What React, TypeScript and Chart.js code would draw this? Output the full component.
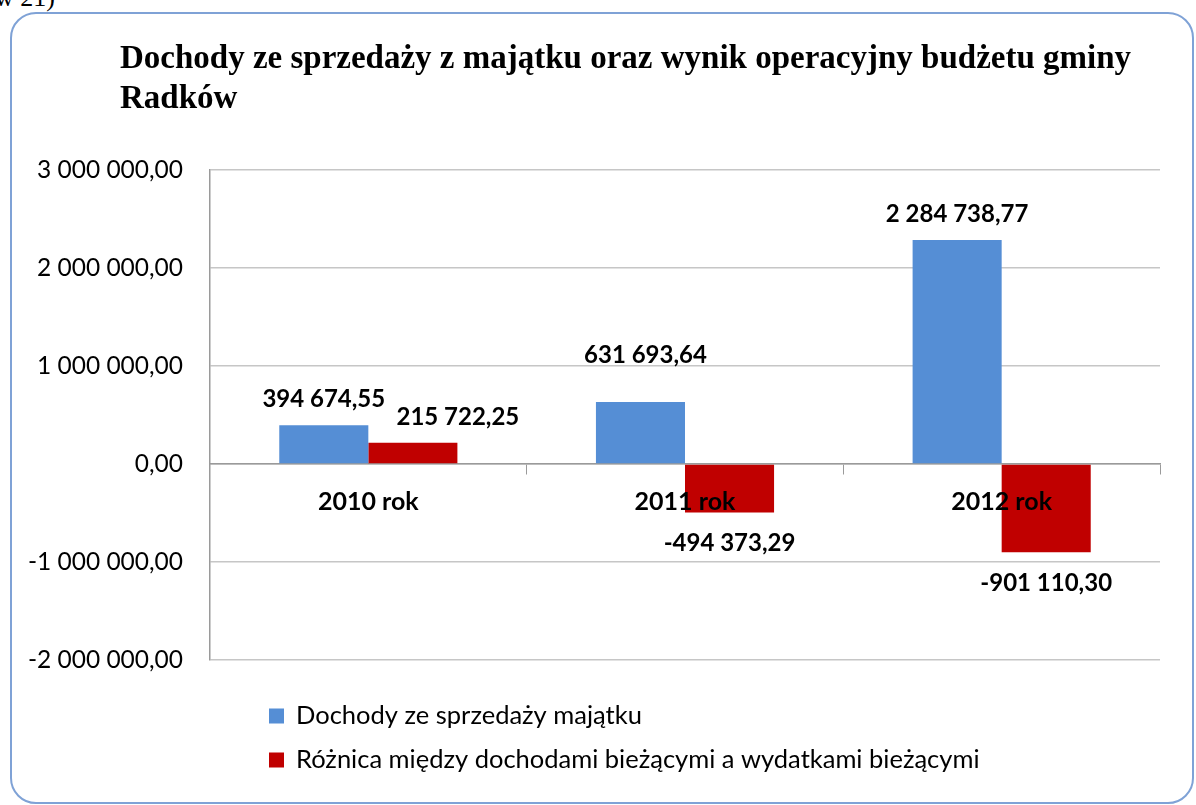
import React, { useEffect, useRef } from "react";
import { Chart, registerables } from "chart.js";

Chart.register(...registerables);

const categories = ["2010 rok", "2011 rok", "2012 rok"];
const seriesNames = [
  "Dochody ze sprzedaży majątku",
  "Różnica między dochodami bieżącymi a wydatkami bieżącymi",
];
const salesIncome = [394674.55, 631693.64, 2284738.77];
const operatingResult = [215722.25, -494373.29, -901110.3];
const yMin = -2000000;
const yMax = 3000000;
const yStep = 1000000;
const seriesColors = ["#558ED5", "#C00000"];

function fmt(v: number): string {
  const neg = v < 0;
  const [i, d] = Math.abs(v).toFixed(2).split(".");
  const grouped = i.replace(/\B(?=(\d{3})+(?!\d))/g, " ");
  return (neg ? "-" : "") + grouped + "," + d;
}

const valueLabels = {
  id: "valueLabels",
  afterDatasetsDraw(chart: any, _args: any, opts: any) {
    const ctx = chart.ctx;
    const nudges = (opts && opts.nudges) || {};
    ctx.save();
    ctx.font = "bold 24px Lato";
    ctx.fillStyle = "#000";
    ctx.textAlign = "center";
    ctx.textBaseline = "middle";
    chart.data.datasets.forEach((ds: any, di: number) => {
      const meta = chart.getDatasetMeta(di);
      meta.data.forEach((el: any, i: number) => {
        const v = ds.data[i] as number;
        const n = nudges[di + "-" + i] || [0, 0];
        const y = v >= 0 ? el.y - 26 : el.y + 31;
        ctx.fillText(fmt(v), el.x + n[0], y + n[1]);
      });
    });
    ctx.restore();
  },
};

const stackedLegend = {
  id: "stackedLegend",
  afterDraw(chart: any, _args: any, opts: any) {
    const ctx = chart.ctx;
    ctx.save();
    ctx.font = "25.5px Lato";
    ctx.textBaseline = "middle";
    ctx.textAlign = "left";
    chart.data.datasets.forEach((ds: any, i: number) => {
      const y = opts.y + i * opts.gap;
      ctx.fillStyle = ds.backgroundColor;
      ctx.fillRect(opts.x, y - 7.5, 15, 15);
      ctx.fillStyle = "#000";
      ctx.fillText(ds.label, opts.x + 27, y);
    });
    ctx.restore();
  },
};

export default function App() {
  const canvasRef = useRef<HTMLCanvasElement | null>(null);

  useEffect(() => {
    if (!canvasRef.current) return;
    const chart = new Chart(canvasRef.current, {
      type: "bar",
      data: {
        labels: categories,
        datasets: [
          {
            label: seriesNames[0],
            data: salesIncome,
            backgroundColor: seriesColors[0],
            barPercentage: 1,
            categoryPercentage: 0.5625,
          },
          {
            label: seriesNames[1],
            data: operatingResult,
            backgroundColor: seriesColors[1],
            barPercentage: 1,
            categoryPercentage: 0.5625,
          },
        ],
      },
      plugins: [valueLabels, stackedLegend],
      options: {
        animation: false,
        responsive: false,
        layout: { padding: { left: 10, top: 170, right: 36, bottom: 145 } },
        plugins: {
          legend: { display: false },
          title: { display: false },
          tooltip: { enabled: false },
          valueLabels: { nudges: { "1-0": [45, 0], "0-1": [5, -21] } },
          stackedLegend: { x: 269, y: 716, gap: 44 },
        } as any,
        scales: {
          x: {
            position: { y: 0 } as any,
            grid: {
              display: true,
              offset: true,
              drawOnChartArea: false,
              drawTicks: true,
              tickLength: 10,
              color: "#9a9a9a",
            },
            border: { display: true, color: "#9a9a9a", width: 1.5 },
            ticks: {
              z: 1,
              padding: 13,
              color: "#000",
              font: { family: "Lato", size: 25, weight: "bold" },
            } as any,
          },
          y: {
            min: yMin,
            max: yMax,
            afterFit(scale: any) {
              scale.width = 200;
            },
            grid: { color: "#c6c6c6", drawTicks: false, lineWidth: 1.5 },
            border: { display: true, color: "#9a9a9a", width: 1.5 },
            ticks: {
              stepSize: yStep,
              padding: 27,
              color: "#000",
              font: { family: "Lato", size: 24.5 },
              callback: (v: any) => fmt(Number(v)),
            },
          },
        },
      },
    });
    return () => chart.destroy();
  }, []);

  return (
    <div
      style={{
        position: "fixed",
        left: 0,
        top: 0,
        width: 1196,
        height: 805,
        background: "#fff",
        overflow: "hidden",
      }}
    >
      <div
        style={{
          position: "absolute",
          left: -5,
          top: -17,
          font: "26px 'Liberation Serif'",
          color: "#000",
        }}
      >
        w 21)
      </div>
      <div
        style={{
          position: "absolute",
          left: 10,
          top: 12,
          width: 1184,
          height: 792,
          boxSizing: "border-box",
          border: "2px solid #7FA2D6",
          borderRadius: 26,
        }}
      />
      <canvas
        ref={canvasRef}
        width={1196}
        height={805}
        style={{ position: "absolute", left: 0, top: 0, width: 1196, height: 805 }}
      />
      <div
        style={{
          position: "absolute",
          left: 120,
          top: 37,
          font: "bold 33px 'Liberation Serif'",
          lineHeight: "40px",
          color: "#000",
          whiteSpace: "nowrap",
        }}
      >
        Dochody ze sprzedaży z majątku oraz wynik operacyjny budżetu gminy
        <br />
        Radków
      </div>
    </div>
  );
}
